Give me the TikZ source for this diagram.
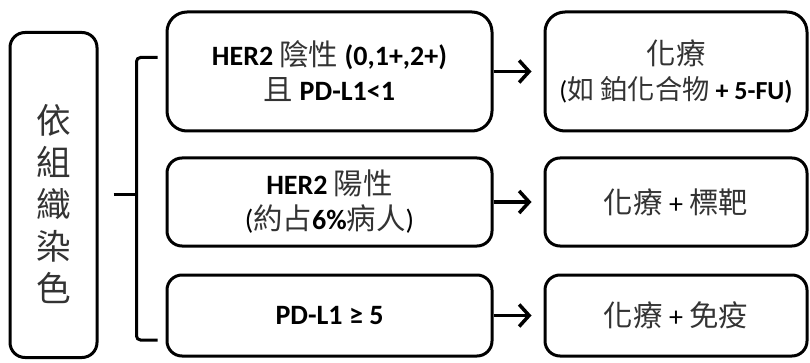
\documentclass[tikz,border=0pt]{standalone}
\usepackage{fontspec}
\setmainfont{Carlito}
\newfontfamily\cjk[Scale=1.05]{Noto Sans CJK TC}
\usetikzlibrary{
  arrows.meta,
  positioning
}
% Chinese words are set in the CJK family, in a softer black.
\newcommand*{\zh}[1]{{\cjk\color{black!80}#1}}
\tikzset{
  % For all rounded boxes.
  box/.style={
    draw,
    line width=3pt,
    rounded corners=15pt,
    align=center,
    inner sep=0pt,
    font=\fontsize{28}{35}\selectfont},
%
  % For the condition boxes in the middle column.
  condition/.style={
    box,
    minimum width=325pt},
%
  % For the treatment boxes in the right column.
  treatment/.style={
    box,
    minimum width=262pt},
%
  % For the short arrows between the columns.
  direction/.style={
    line width=3.5pt,
    -{Straight Barb[length=10pt,width=22pt]},
    shorten >=12pt},
%
  % For the square bracket.
  brace/.style={
    line width=3pt,
    rounded corners=4pt}
}

\begin{document}
\begin{tikzpicture}[x=1pt, y=-1pt]
  \useasboundingbox (0,0) rectangle (810,363);

  % the text height pushes the column of characters a little down
  \node[box, minimum width=87pt, minimum height=325pt,
        font=\cjk\fontsize{33}{42}\selectfont, text=black!80,
        text height=216pt]
    (stain) at (53.5,195) {依\\組\\織\\染\\色};

  \node[condition, minimum height=119pt, rounded corners=20pt]
    (cond1) at (329.5,71.5)
    {\textbf{HER2} \zh{陰性} \textbf{(0,1+,2+)}\\
     \zh{且} \textbf{PD-L1<1}};
  \node[condition, minimum height=88pt] (cond2) at (329.5,202)
    {\textbf{HER2} \zh{陽性}\\
     (\zh{約占}\textbf{6\%}\zh{病人})};
  \node[condition, minimum height=81pt] (cond3) at (329.5,315.5)
    {\textbf{PD-L1 ≥ 5}};

  \node[treatment, minimum height=119pt, rounded corners=20pt,
        right=50pt of cond1] (treat1)
    {\zh{化療}\\
     {\fontsize{26}{32}\selectfont (\zh{如} \zh{鉑化合物} \textbf{+ 5-FU)}}};
  \node[treatment, minimum height=88pt, right=50pt of cond2] (treat2)
    {\zh{化療} + \zh{標靶}};
  \node[treatment, minimum height=81pt, right=50pt of cond3] (treat3)
    {\zh{化療} + \zh{免疫}};

  \foreach \i in {1,2,3}
    \draw[direction] (cond\i) -- (treat\i);

  % bracket from the stain box to the three conditions
  \coordinate (spine top) at ([xshift=-29pt, yshift=14pt]cond1.west);
  \coordinate (spine bottom) at ([xshift=-29pt, yshift=-24.5pt]cond3.west);
  \draw[brace] ([xshift=21pt]spine top) -- (spine top)
    -- (spine bottom) -- ([xshift=21pt]spine bottom);
  \draw[brace] ([xshift=15pt]stain.east) -- (stain.east -| spine top);
\end{tikzpicture}
\end{document}
